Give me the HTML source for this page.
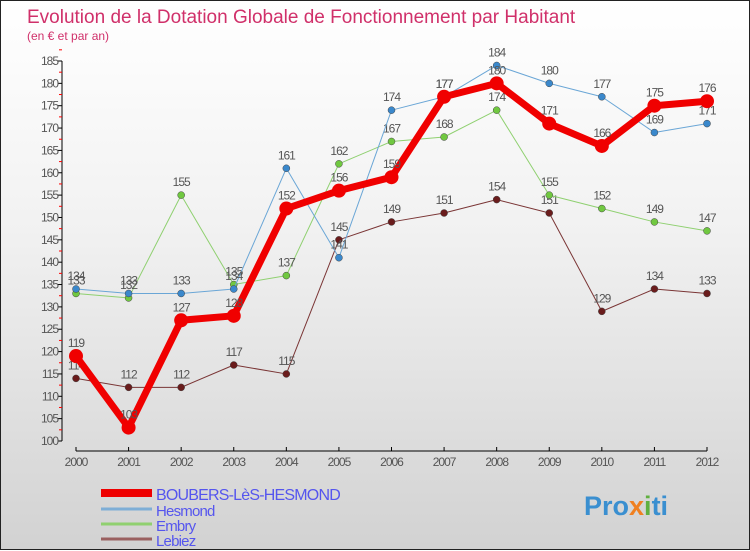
<!DOCTYPE html>
<html><head><meta charset="utf-8"><style>
body{margin:0}
#c{width:748px;height:548px;border:1px solid #222;background:linear-gradient(#ffffff,#f2f2f2 40%,#d2d2d2);position:relative;font-family:"Liberation Sans",sans-serif}
svg{position:absolute;left:0;top:0}
</style></head><body>
<div id="c">
<svg id="s" width="750" height="550">
<text x="26" y="22" font-size="19" fill="#d0306a">Evolution de la Dotation Globale de Fonctionnement par Habitant</text>
<text x="26" y="39" font-size="12" fill="#d0306a">(en € et par an)</text>
<text x="583" y="514" font-size="27" font-weight="bold" fill="#3a8fd0">Pro<tspan fill="#f08020">x</tspan><tspan fill="#60b040">i</tspan>ti</text>
</svg>
</div>
<script>
const years=[2000,2001,2002,2003,2004,2005,2006,2007,2008,2009,2010,2011,2012];
const yTicks=[100,105,110,115,120,125,130,135,140,145,150,155,160,165,170,175,180,185];
const boubers=[119,103,127,128,152,156,159,177,180,171,166,175,176];
const hesmond=[134,133,133,134,161,141,174,177,184,180,177,169,171];
const embry=[133,132,155,135,137,162,167,168,174,155,152,149,147];
const lebiez=[114,112,112,117,115,145,149,151,154,151,129,134,133];
const seriesNames=["BOUBERS-LèS-HESMOND","Hesmond","Embry","Lebiez"];
const NS="http://www.w3.org/2000/svg";
const s=document.getElementById('s');
const X=i=>75+i*(706-75)/12;
const Y=v=>440-(v-100)*(380/85);
function el(t,a,p){const e=document.createElementNS(NS,t);for(const k in a)e.setAttribute(k,a[k]);(p||s).appendChild(e);return e;}
// y axis
let ax=el('line',{x1:61,y1:60,x2:61,y2:440,stroke:'#000'});


yTicks.forEach(v=>{
 const t=el('line',{x1:57,x2:61,y1:Y(v),y2:Y(v),stroke:'#000'});
 
 
 const m=el('line',{x1:58,x2:61,y1:Y(v+2.5),y2:Y(v+2.5),stroke:'#f00'});
 
 
 const l=el('text',{x:57,y:Y(v)+4,'text-anchor':'end','font-size':12,fill:'#555','letter-spacing':'-1'});
 l.textContent=v;
 
 
});
let xa=el('line',{x1:75,y1:450,x2:706,y2:450,stroke:'#000'});


years.forEach((y,i)=>{
 const t=el('line',{x1:X(i),x2:X(i),y1:446,y2:450,stroke:'#000'});
 
 
 const l=el('text',{x:X(i),y:465,'text-anchor':'middle','font-size':12,fill:'#555','letter-spacing':'-1'});
 l.textContent=y;
 
 
});
function series(d,color,w,r,dot,name){
 const g=el('g',{});
 
 
 const p=el('polyline',{points:d.map((v,i)=>X(i)+','+Y(v)).join(' '),fill:'none',stroke:color,'stroke-width':w,'stroke-linejoin':'round'},g);
 
 
 d.forEach((v,i)=>{
  const c=el('circle',{cx:X(i),cy:Y(v),r:r,fill:dot,stroke:color==dot?'none':'#444','stroke-width':0.5},g);
  
  
  const t=el('text',{x:X(i),y:Y(v)-9,'text-anchor':'middle','font-size':12,fill:'#555','letter-spacing':'-1'},g);
  t.textContent=v;
  
  
 });
}
series(lebiez,'#7a3535',1,3.5,'#6a1c1c','lebiez');
series(embry,'#8fd070',1,3.5,'#70c840','embry');
series(hesmond,'#6aa6d6',1,3.5,'#3a88cc','hesmond');
series(boubers,'#f00000',7,7,'#f00000','boubers');
const lc=['#ee0000','#7eaed6','#90d070','#9a6060'],lw=[8,3,3,3];
seriesNames.forEach((n,i)=>{
 const yy=[492,508,523,538][i];
 const l=el('line',{x1:100,x2:151,y1:yy,y2:yy,stroke:lc[i],'stroke-width':lw[i]});
 
 
 const t=el('text',{x:155,y:yy+7,'font-size':i==0?16:15,fill:'#5555ee','letter-spacing':'-0.8'});
 t.textContent=n;
 
 
});
</script>
</body></html>
